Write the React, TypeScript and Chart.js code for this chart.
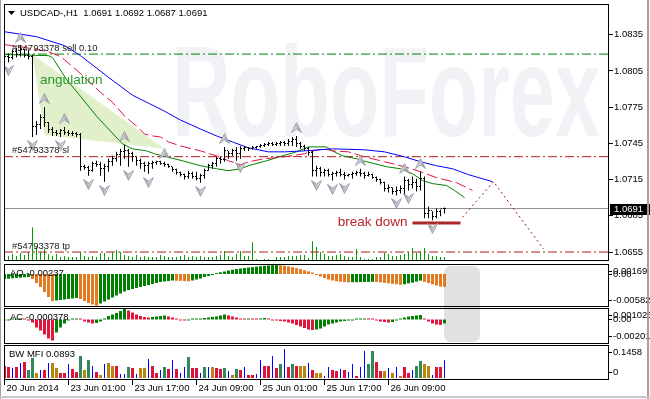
import React, { useEffect, useRef } from 'react';
import { Chart, registerables } from 'chart.js';

Chart.register(...registerables);

const FONT = '"Liberation Sans", Arial, sans-serif';

// ---------------- data ----------------
const symbolName = 'USDCAD-,H1';

const opens = [
  1.08145, 1.08169, 1.08161, 1.0821, 1.08186, 1.08227, 1.08177, 1.08169, 1.07586, 1.0761,
  1.07668, 1.07627, 1.07569, 1.07544, 1.07536, 1.07553, 1.07544, 1.07536, 1.07528, 1.0752,
  1.07257, 1.07249, 1.07224, 1.07281, 1.07273, 1.0724, 1.07257, 1.07298, 1.07323, 1.07355,
  1.0738, 1.07388, 1.07364, 1.07339, 1.07306, 1.07281, 1.07265, 1.07281, 1.0729, 1.07298,
  1.07281, 1.07273, 1.07257, 1.07232, 1.07207, 1.07191, 1.07175, 1.07199, 1.07175, 1.07158,
  1.07183, 1.07224, 1.07265, 1.07281, 1.07323, 1.07314, 1.07388, 1.07364, 1.07388, 1.07364,
  1.07405, 1.07413, 1.07405, 1.07413, 1.07421, 1.07429, 1.07438, 1.07446, 1.07438, 1.07446,
  1.07454, 1.07446, 1.07462, 1.07479, 1.07446, 1.07421, 1.07405, 1.07372, 1.07224, 1.0724,
  1.07207, 1.07224, 1.07191, 1.07199, 1.07207, 1.07191, 1.07183, 1.07191, 1.07199, 1.07207,
  1.07199, 1.07183, 1.07191, 1.07166, 1.0715, 1.07125, 1.07076, 1.07084, 1.07051, 1.0706,
  1.07076, 1.07142, 1.07109, 1.07125, 1.07092, 1.07158, 1.0687, 1.06895, 1.06846, 1.06887,
  1.0691,
];
const highs = [
  1.08186, 1.08194, 1.08227, 1.08243, 1.0826, 1.08235, 1.08227, 1.08186, 1.07635, 1.07692,
  1.0775, 1.07627, 1.07586, 1.07561, 1.07569, 1.07586, 1.07561, 1.07553, 1.07544, 1.07536,
  1.07273, 1.07265, 1.07298, 1.07306, 1.07298, 1.07281, 1.07323, 1.07347, 1.0738, 1.07405,
  1.07438, 1.07405, 1.0738, 1.07339, 1.07323, 1.07298, 1.07298, 1.07306, 1.07306, 1.07306,
  1.07298, 1.07281, 1.07257, 1.0724, 1.07216, 1.07199, 1.07224, 1.07216, 1.07216, 1.07199,
  1.0724, 1.07281, 1.07298, 1.07339, 1.07339, 1.07421, 1.07388, 1.07405, 1.07421, 1.07429,
  1.07429, 1.07421, 1.07429, 1.07429, 1.07446, 1.07454, 1.07462, 1.07462, 1.07462, 1.0747,
  1.0747, 1.07487, 1.07503, 1.07512, 1.07462, 1.07438, 1.07421, 1.07388, 1.07265, 1.07257,
  1.0724, 1.0724, 1.07216, 1.07224, 1.0724, 1.07216, 1.07199, 1.07216, 1.07224, 1.0724,
  1.07216, 1.07216, 1.07199, 1.07175, 1.07158, 1.07133, 1.07109, 1.07084, 1.07092, 1.07101,
  1.07175, 1.07158, 1.07175, 1.07158, 1.07216, 1.07175, 1.06928, 1.06887, 1.06912, 1.06903,
  1.0692,
];
const lows = [
  1.0812, 1.0812, 1.08145, 1.08161, 1.08169, 1.08161, 1.08145, 1.07503, 1.0752, 1.07569,
  1.07586, 1.07536, 1.07512, 1.07512, 1.07503, 1.0752, 1.07512, 1.07512, 1.07503, 1.07224,
  1.07232, 1.07183, 1.07216, 1.07257, 1.07183, 1.07133, 1.07216, 1.07265, 1.07298, 1.07265,
  1.07323, 1.07257, 1.07298, 1.07265, 1.0724, 1.07216, 1.07199, 1.0724, 1.07273, 1.07273,
  1.07257, 1.07249, 1.07216, 1.07191, 1.07175, 1.0715, 1.07158, 1.07158, 1.07142, 1.07125,
  1.07158, 1.07224, 1.0724, 1.07257, 1.07281, 1.07298, 1.07323, 1.07347, 1.07306, 1.07323,
  1.07388, 1.07388, 1.07397, 1.07405, 1.07413, 1.07421, 1.07429, 1.07429, 1.07429, 1.07429,
  1.07429, 1.07429, 1.07429, 1.07421, 1.07405, 1.07388, 1.07347, 1.07175, 1.07175, 1.07175,
  1.07175, 1.07175, 1.07142, 1.07175, 1.07175, 1.0715, 1.07175, 1.07158, 1.07183, 1.07175,
  1.07158, 1.07175, 1.07158, 1.07133, 1.07109, 1.07051, 1.07043, 1.07027, 1.07018, 1.07035,
  1.07027, 1.0706, 1.07076, 1.07051, 1.0706, 1.06829, 1.06829, 1.06813, 1.06829, 1.06846,
  1.0687,
];
const closes = [
  1.08169, 1.08161, 1.0821, 1.08186, 1.08227, 1.08177, 1.08169, 1.07586, 1.0761, 1.07668,
  1.07627, 1.07569, 1.07544, 1.07536, 1.07553, 1.07544, 1.07536, 1.07528, 1.0752, 1.07257,
  1.07249, 1.07224, 1.07281, 1.07273, 1.0724, 1.07257, 1.07298, 1.07323, 1.07355, 1.0738,
  1.07388, 1.07364, 1.07339, 1.07306, 1.07281, 1.07265, 1.07281, 1.0729, 1.07298, 1.07281,
  1.07273, 1.07257, 1.07232, 1.07207, 1.07191, 1.07175, 1.07199, 1.07175, 1.07158, 1.07183,
  1.07224, 1.07265, 1.07281, 1.07323, 1.07314, 1.07388, 1.07364, 1.07388, 1.07364, 1.07405,
  1.07413, 1.07405, 1.07413, 1.07421, 1.07429, 1.07438, 1.07446, 1.07438, 1.07446, 1.07454,
  1.07446, 1.07462, 1.07479, 1.07446, 1.07421, 1.07405, 1.07372, 1.07224, 1.0724, 1.07207,
  1.07224, 1.07191, 1.07199, 1.07207, 1.07191, 1.07183, 1.07191, 1.07199, 1.07207, 1.07199,
  1.07183, 1.07191, 1.07166, 1.0715, 1.07125, 1.07076, 1.07084, 1.07051, 1.0706, 1.07076,
  1.07142, 1.07109, 1.07125, 1.07092, 1.07158, 1.0687, 1.06895, 1.06846, 1.06887, 1.0691,
  1.0691,
];
const tickVolumes = [
  600, 500, 700, 500, 800, 600, 900, 3400, 1400, 900,
  1200, 700, 500, 700, 400, 500, 400, 400, 400, 900,
  500, 400, 500, 400, 800, 800, 400, 900, 1100, 900,
  600, 500, 400, 600, 400, 500, 400, 400, 400, 600,
  500, 400, 400, 400, 500, 600, 400, 500, 400, 500,
  400, 400, 400, 500, 600, 1000, 500, 400, 700, 1000,
  500, 500, 1900, 200, 100, 200, 200, 100, 400, 400,
  400, 500, 500, 500, 600, 600, 300, 2000, 1400, 900,
  700, 500, 500, 600, 700, 500, 400, 400, 1200, 400,
  200, 200, 200, 400, 400, 800, 700, 500, 500, 600,
  700, 900, 1300, 800, 1000, 1300, 700, 500, 500, 400,
  400,
];
const aoValues = [
  -0.00092, -0.00086, -0.00079, -0.00073, -0.00068, -0.0006, -0.00055, -0.00092, -0.00165, -0.00238,
  -0.00329, -0.00421, -0.00494, -0.00485, -0.00476, -0.00467, -0.00458, -0.00448, -0.00439, -0.00458,
  -0.00494, -0.00531, -0.00558, -0.00582, -0.0054, -0.00503, -0.00467, -0.0043, -0.00393, -0.00357,
  -0.0032, -0.00293, -0.00275, -0.00256, -0.00238, -0.0022, -0.00201, -0.00183, -0.00165, -0.00146,
  -0.00137, -0.00128, -0.00119, -0.00123, -0.00126, -0.0013, -0.00134, -0.00119, -0.00101, -0.00082,
  -0.00055, -0.00037, -0.00009, 0.00013, 0.00031, 0.00046, 0.00064, 0.00079, 0.00092, 0.00101,
  0.0011, 0.00118, 0.00126, 0.00134, 0.00142, 0.0015, 0.00157, 0.00163, 0.00169, 0.0016,
  0.0015, 0.00138, 0.00124, 0.00108, 0.0009, 0.0007, 0.00049, 0.00027, -0.00018, -0.00046,
  -0.00073, -0.00101, -0.00119, -0.00132, -0.00141, -0.00148, -0.00154, -0.00152, -0.0015, -0.00148,
  -0.00146, -0.00145, -0.00143, -0.00146, -0.00154, -0.00161, -0.0017, -0.00179, -0.00188, -0.00198,
  -0.00187, -0.00172, -0.00157, -0.00139, -0.00121, -0.00143, -0.00165, -0.00187, -0.00209, -0.00231,
  -0.00237,
];
const acValues = [
  -0.000096, -0.000048, 0.000005, 0.000048, 0.000096, 0.000048, -0.00001, -0.000287, -0.000766, -0.001053,
  -0.001436, -0.001818, -0.00201, -0.001244, -0.000766, -0.000383, -0.000096, 0.000048, 0.000096, 0.000048,
  -0.000191, -0.000287, -0.000383, -0.000335, -0.000191, 0.000096, 0.000335, 0.000479, 0.000622, 0.000813,
  0.001026, 0.000861, 0.00067, 0.000479, 0.000335, 0.000239, 0.000191, 0.000239, 0.000287, 0.000335,
  0.000383, 0.000287, 0.000191, 0.000048, -0.000048, -0.000096, -0.000048, 0.00001, 0.000048, 0.000096,
  0.000144, 0.000191, 0.000239, 0.000287, 0.000383, 0.000479, 0.000383, 0.000287, 0.000191, 0.000096,
  0.000048, 0.000096, 0.000048, 0.00001, 0.000096, 0.000144, 0.000048, -0.000048, -0.000096, -0.000144,
  -0.000191, -0.000287, -0.000383, -0.000526, -0.00067, -0.000813, -0.000957, -0.001005, -0.000957, -0.000861,
  -0.00067, -0.000479, -0.000383, -0.000287, -0.000191, -0.000144, -0.000096, -0.000048, 0.00001, 0.000048,
  0.000096, 0.000048, 0.00001, -0.000096, -0.000191, -0.000239, -0.000287, -0.000239, -0.000096, 0.000096,
  0.000191, 0.000287, 0.000335, 0.000383, 0.000431, 0.000096, -0.000191, -0.000383, -0.000479, -0.000526,
  -0.000378,
];
const mfiValues = [
  0.0604, 0.0553, 0.0503, 0.0553, 0.0755, 0.0805, 0.0402, 0.1006, 0.0252, 0.0402,
  0.0402, 0.0755, 0.0755, 0.0503, 0.0252, 0.0252, 0.0704, 0.0453, 0.0302, 0.1107,
  0.0402, 0.0905, 0.0604, 0.0302, 0.0151, 0.0704, 0.0755, 0.0604, 0.0604, 0.0201,
  0.0201, 0.0553, 0.0503, 0.0201, 0.0503, 0.0503, 0.0956, 0.0604, 0.0252, 0.0402,
  0.0553, 0.0453, 0.0905, 0.0453, 0.0252, 0.0553, 0.1056, 0.0503, 0.0503, 0.0252,
  0.0553, 0.0553, 0.0553, 0.0503, 0.0453, 0.0503, 0.0352, 0.0151, 0.0453, 0.0402,
  0.0553, 0.0151, 0.0151, 0.0201, 0.0905, 0.0604, 0.0604, 0.1107, 0.0503, 0.0704,
  0.1458, 0.0553, 0.0704, 0.0604, 0.0604, 0.0604, 0.0755, 0.0402, 0.0252, 0.0252,
  0.0101, 0.0553, 0.0402, 0.0352, 0.0453, 0.0402, 0.0302, 0.0704, 0.0101, 0.0553,
  0.1358, 0.0704, 0.1358, 0.0805, 0.0352, 0.0352, 0.0503, 0.0252, 0.0553, 0.0101,
  0.0553, 0.0252, 0.0402, 0.0604, 0.0855, 0.0704, 0.0604, 0.0151, 0.0553, 0.0553,
  0.0893,
];
// G = green (+MFI +vol), Y = fade, B = fake, R = squat
const mfiZones = (
  'RRBRBRGGYB' + 'RBYYRRBRRG' + 'YGBRYBYYRB' + 'BGRBYYBRRB' + 'GRBRBBGRRB' + 'GBYRRGBYGR' +
  'BRRBBRRBRG' + 'BRGRYYBRYY' + 'BBRRBRBBRB' + 'BGGRRYBYBY' + 'RRBGGYYBRR' + 'B'
).split('');
const upFractalBars = [4, 10, 15, 30, 40, 55, 73, 89, 100, 104];
const downFractalBars = [1, 7, 14, 21, 25, 31, 36, 49, 59, 78, 82, 85, 98, 101, 107];

const jawLine = [
  [0, 1.08375], [8, 1.08334], [15, 1.0826], [19, 1.08177], [26, 1.07997], [32, 1.07849], [36, 1.07783],
  [40, 1.07717], [44, 1.07643], [49, 1.07569], [53, 1.07512], [57, 1.07462], [61, 1.07413], [66, 1.0738],
  [70, 1.0738], [75, 1.07388], [82, 1.07405], [90, 1.07397], [95, 1.0738], [100, 1.07339], [104, 1.07298],
  [108, 1.07265], [112, 1.0724], [116, 1.07191], [122, 1.07133],
];
const teethLine = [
  [0, 1.08268], [4, 1.08251], [11, 1.0821], [14, 1.08169], [17, 1.08087], [19, 1.08029], [24, 1.07873],
  [27, 1.07791], [30, 1.07676], [33, 1.07594], [35, 1.07528], [37, 1.07512], [39, 1.07503], [41, 1.07462],
  [44, 1.07429], [49, 1.07388], [53, 1.07347], [56, 1.07306], [59, 1.07273], [61, 1.07298], [65, 1.07323],
  [70, 1.07339], [75, 1.07364], [77, 1.07388], [80, 1.07405], [82, 1.07388], [86, 1.0738], [90, 1.07339],
  [95, 1.07298], [100, 1.07257], [104, 1.07216], [108, 1.07166], [113, 1.07125], [117, 1.0706],
];
const lipsLine = [
  [0, 1.08186], [11, 1.08177], [12, 1.08161], [15.5, 1.0798], [19, 1.0784], [23, 1.07676], [26, 1.07569],
  [29.5, 1.07446], [32, 1.07405], [35.5, 1.07388], [37.5, 1.07364], [40.5, 1.07339], [44.5, 1.07306],
  [49, 1.07265], [53, 1.0724], [56, 1.07224], [59, 1.0724], [61, 1.07265], [65.5, 1.07306], [69.5, 1.07347],
  [73, 1.0738], [76, 1.07421], [80.5, 1.07421], [82, 1.07388], [84.5, 1.07347], [88, 1.07323], [90.5, 1.07298],
  [95.5, 1.07257], [99, 1.0724], [102, 1.07199], [104.5, 1.07142], [107, 1.07117], [110.5, 1.07101],
  [112.5, 1.0706], [115, 1.07002],
];

const priceTicks = [1.0655, 1.0685, 1.0715, 1.0745, 1.0775, 1.0805, 1.0835];
const timeTickBars = [0, 16, 32, 48, 64, 80, 96];
const timeTickLabels = ['20 Jun 2014', '23 Jun 01:00', '23 Jun 17:00', '24 Jun 09:00', '25 Jun 01:00', '25 Jun 17:00', '26 Jun 09:00'];

const orderId = '#54793378';
const orderLots = '0.10';
const sellPrice = 1.0819;
const stopLoss = 1.0734;
const takeProfit = 1.0655;
const breakDownLevel = 1.0679;
const breakDownBars = [102, 114];
const projectionPath = [[114.5, 1.06838], [122.25, 1.07133], [134.75, 1.06575]];
const angulationShape = [[7, 1.08186], [40, 1.07405], [10, 1.0752], [7, 1.08186]];
const angulationLabelAt = [8.9, 1.07939];

const aoAxisMarks = [0.00169, 0, -0.00582];
const acAxisMarks = [0.001026, 0, -0.00201];
const mfiAxisMarks = [0.1458, 0];

// ---------------- helpers ----------------
const LAST = closes.length - 1;
const X_MIN = -0.125;
const X_MAX = 151.125;
const pts = (arr: number[][]) => arr.map(([x, y]) => ({ x, y }));
const hline = (y: number) => [{ x: X_MIN, y }, { x: X_MAX, y }];
const DASHDOT = [9, 3, 2, 3];

function makeTick(side: 'open' | 'close'): HTMLCanvasElement {
  const c = document.createElement('canvas');
  c.width = 3;
  c.height = 1;
  const g = c.getContext('2d')!;
  g.fillStyle = '#000';
  g.fillRect(side === 'open' ? 0 : 2, 0, 1, 1);
  return c;
}
function makeArrow(): HTMLCanvasElement {
  const c = document.createElement('canvas');
  c.width = 11;
  c.height = 11;
  const g = c.getContext('2d')!;
  g.beginPath();
  g.moveTo(5.5, 0.5);
  g.lineTo(10.5, 10.5);
  g.lineTo(5.5, 7);
  g.lineTo(0.5, 10.5);
  g.closePath();
  const grad = g.createLinearGradient(0, 0, 11, 0);
  grad.addColorStop(0, '#f4f4f8');
  grad.addColorStop(0.45, '#c4c4cc');
  grad.addColorStop(1, '#8c8c98');
  g.fillStyle = grad;
  g.fill();
  g.strokeStyle = '#a4a4b0';
  g.lineWidth = 1;
  g.stroke();
  return c;
}

const noPad = (s: any) => {
  s.paddingTop = 0;
  s.paddingBottom = 0;
  s.paddingLeft = 0;
  s.paddingRight = 0;
};

const xAxis = (): any => ({
  type: 'linear', min: X_MIN, max: X_MAX, offset: false, display: false,
  grid: { display: false, offset: false },
});
const rightAxis = (min: number, max: number): any => ({
  position: 'right', min, max,
  afterFit: (s: any) => { s.width = 41; noPad(s); },
  ticks: { display: false },
  grid: { display: false },
  border: { display: false },
});
const baseOptions = (padding: any, scales: any): any => ({
  responsive: false,
  animation: false,
  events: [],
  layout: { padding },
  plugins: { legend: { display: false }, tooltip: { enabled: false } },
  scales,
});

const framePlugin = {
  id: 'frame',
  afterDraw(chart: any) {
    const { ctx, chartArea: a } = chart;
    ctx.save();
    ctx.strokeStyle = '#000';
    ctx.lineWidth = 1;
    ctx.strokeRect(a.left + 0.5, a.top + 0.5, a.right - a.left - 1, a.bottom - a.top - 1);
    ctx.restore();
  },
};

function panelPlugin(id: string, title: string, marks: { v: number; t: string; dy: number }[], titleX: number) {
  return {
    id,
    afterDraw(chart: any) {
      const { ctx, chartArea: a } = chart;
      const ys = chart.scales.y;
      ctx.save();
      ctx.font = `9.5px ${FONT}`;
      ctx.textBaseline = 'middle';
      ctx.textAlign = 'left';
      ctx.fillStyle = '#000';
      ctx.fillText(title, titleX, a.top + 9);
      marks.forEach((m) => {
        const y = Math.round(ys.getPixelForValue(m.v) + m.dy);
        ctx.fillRect(a.right, y, 3, 1);
        ctx.fillText(m.t, a.right + 4, y + 0.5);
      });
      ctx.restore();
    },
  };
}

const mainPlugin = {
  id: 'mainDecor',
  beforeDatasetsDraw(chart: any) {
    const { ctx, chartArea: a } = chart;
    ctx.save();
    ctx.beginPath();
    ctx.rect(a.left, a.top, a.right - a.left, a.bottom - a.top);
    ctx.clip();
    ctx.font = `bold 128px ${FONT}`;
    const w = ctx.measureText('RoboForex').width;
    ctx.translate(172, 136);
    ctx.scale(428 / w, 1);
    ctx.fillStyle = '#f0f2f6';
    ctx.textBaseline = 'alphabetic';
    ctx.fillText('RoboForex', 0, 0);
    ctx.restore();
    ctx.imageSmoothingEnabled = false;
  },
  afterDatasetsDraw(chart: any) {
    const { ctx } = chart;
    const xs = chart.scales.x;
    const ys = chart.scales.y;
    ctx.save();
    ctx.fillStyle = '#000';
    ctx.beginPath();
    ctx.moveTo(8, 11);
    ctx.lineTo(15, 11);
    ctx.lineTo(11.5, 15);
    ctx.closePath();
    ctx.fill();
    ctx.font = `9.5px ${FONT}`;
    ctx.textBaseline = 'middle';
    ctx.textAlign = 'left';
    const ohlc = [opens[LAST], highs[LAST], lows[LAST], closes[LAST]].map((v) => v.toFixed(4)).join(' ');
    ctx.fillText(`${symbolName}  ${ohlc}`, 20, 13);
    ctx.fillStyle = '#1a1a1a';
    ctx.fillText(`${orderId} sell ${orderLots}`, 12, ys.getPixelForValue(sellPrice) - 6);
    ctx.fillText(`${orderId} sl`, 12, ys.getPixelForValue(stopLoss) - 6);
    ctx.fillText(`${orderId} tp`, 12, ys.getPixelForValue(takeProfit) - 6);
    ctx.font = `13.5px ${FONT}`;
    ctx.textBaseline = 'alphabetic';
    ctx.fillStyle = '#2a992a';
    ctx.fillText('angulation', xs.getPixelForValue(angulationLabelAt[0]), ys.getPixelForValue(angulationLabelAt[1]));
    ctx.fillStyle = '#b8262b';
    ctx.textAlign = 'right';
    ctx.fillText('break down', xs.getPixelForValue(breakDownBars[0]) - 5, ys.getPixelForValue(breakDownLevel) + 3);
    ctx.restore();
  },
  afterDraw(chart: any) {
    const { ctx, chartArea: a } = chart;
    const ys = chart.scales.y;
    const yb = Math.round(ys.getPixelForValue(closes[LAST]));
    ctx.save();
    ctx.fillStyle = '#000';
    ctx.fillRect(a.right + 1, yb - 5, 41, 11);
    ctx.fillStyle = '#fff';
    ctx.font = `9.5px ${FONT}`;
    ctx.textBaseline = 'middle';
    ctx.textAlign = 'left';
    ctx.fillText(closes[LAST].toFixed(4), a.right + 5, yb + 0.5);
    ctx.restore();
  },
};

function mainConfig(): any {
  const openTick = makeTick('open');
  const closeTick = makeTick('close');
  const arrow = makeArrow();
  const FR_OFF = 0.0007;
  const line = (data: any, color: string, extra: any = {}) => ({
    type: 'line', data, borderColor: color, borderWidth: 1, pointRadius: 0, tension: 0, fill: false, ...extra,
  });
  const marks = (data: any, style: any, extra: any = {}) => ({
    type: 'line', data, showLine: false, pointStyle: style, pointRadius: 2, pointHoverRadius: 2,
    pointBorderWidth: 0, ...extra,
  });
  return {
    type: 'bar',
    data: {
      datasets: [
        { type: 'line', data: pts(angulationShape), borderWidth: 0, pointRadius: 0, fill: 'shape',
          backgroundColor: 'rgba(168,212,104,0.34)', borderColor: 'rgba(0,0,0,0)', order: 30 },
        { type: 'bar', yAxisID: 'yVol', data: tickVolumes.map((v, i) => ({ x: i, y: v })), backgroundColor: '#00a000',
          barThickness: 1, inflateAmount: 0, grouped: false, borderWidth: 0, order: 29 },
        line(hline(sellPrice), '#008000', { borderDash: DASHDOT, order: 20 }),
        line(hline(stopLoss), '#b01c1c', { borderDash: DASHDOT, order: 20 }),
        line(hline(takeProfit), '#b01c1c', { borderDash: DASHDOT, order: 20 }),
        line(hline(closes[LAST]), '#8a9099', { order: 20 }),
        line(pts(jawLine), '#0000ff', { order: 10 }),
        line(pts(teethLine), '#e0143c', { borderDash: [11, 4], order: 10 }),
        line(pts(lipsLine), '#008000', { order: 10 }),
        line(breakDownBars.map((x) => ({ x, y: breakDownLevel })), '#a82828', { borderWidth: 3, order: 9 }),
        line(pts(projectionPath), '#a01818', { borderDash: [2, 3], order: 9 }),
        { type: 'bar', data: highs.map((h, i) => ({ x: i, y: [lows[i], h] })), backgroundColor: '#000',
          barThickness: 1, inflateAmount: 0, grouped: false, borderWidth: 0, order: 3 },
        marks(opens.map((y, i) => ({ x: i, y })), openTick, { order: 2 }),
        marks(closes.map((y, i) => ({ x: i, y })), closeTick, { order: 2 }),
        marks(upFractalBars.map((i) => ({ x: i, y: highs[i] + FR_OFF })), arrow, { order: 1 }),
        marks(downFractalBars.map((i) => ({ x: i, y: lows[i] - FR_OFF })), arrow, { pointRotation: 180, order: 1 }),
      ],
    },
    options: baseOptions({ left: 4, right: 0, top: 4, bottom: 0 }, {
      x: xAxis(),
      y: {
        position: 'right', min: 1.064758, max: 1.086048,
        afterFit: (s: any) => { s.width = 41; noPad(s); },
        afterBuildTicks: (s: any) => { s.ticks = priceTicks.map((v) => ({ value: v })); },
        ticks: { callback: (v: any) => Number(v).toFixed(4), color: '#000', padding: 1, autoSkip: false,
          font: { family: FONT, size: 9.5 } },
        grid: { drawOnChartArea: false, drawTicks: true, tickLength: 4, color: '#000' },
        border: { display: false },
      },
      yVol: { display: false, min: 0, max: 25900 },
    }),
    plugins: [mainPlugin, framePlugin],
  };
}

function aoConfig(): any {
  return {
    type: 'bar',
    data: {
      datasets: [{
        data: aoValues.map((v, i) => ({ x: i, y: v })),
        backgroundColor: (c: any) => (c.dataIndex === 0 || aoValues[c.dataIndex] > aoValues[c.dataIndex - 1] ? '#008000' : '#e27a22'),
        barThickness: 3, inflateAmount: 0, grouped: false, borderWidth: 0, minBarLength: 1,
      }],
    },
    options: baseOptions({ left: 4, right: 0, top: 0, bottom: 0 }, { x: xAxis(), y: rightAxis(-0.00604, 0.00183) }),
    plugins: [framePlugin, panelPlugin('aoDecor', `AO ${aoValues[LAST].toFixed(5)}`, [
      { v: aoAxisMarks[0], t: aoAxisMarks[0].toFixed(5), dy: 6 },
      { v: aoAxisMarks[1], t: '0.00', dy: 0 },
      { v: aoAxisMarks[2], t: aoAxisMarks[2].toFixed(5), dy: -6 },
    ], 10)],
  };
}

function acConfig(): any {
  return {
    type: 'bar',
    data: {
      datasets: [{
        data: acValues.map((v, i) => ({ x: i, y: v })),
        backgroundColor: (c: any) => (c.dataIndex === 0 || acValues[c.dataIndex] > acValues[c.dataIndex - 1] ? '#008000' : '#e0143c'),
        barThickness: 3, inflateAmount: 0, grouped: false, borderWidth: 0, minBarLength: 1,
      }],
    },
    options: baseOptions({ left: 4, right: 0, top: 0, bottom: 0 }, { x: xAxis(), y: rightAxis(-0.002345, 0.0011) }),
    plugins: [framePlugin, panelPlugin('acDecor', `AC ${acValues[LAST].toFixed(6)}`, [
      { v: acAxisMarks[0], t: acAxisMarks[0].toFixed(6), dy: 6 },
      { v: acAxisMarks[1], t: '0.00', dy: 0 },
      { v: acAxisMarks[2], t: acAxisMarks[2].toFixed(5), dy: -4 },
    ], 10)],
  };
}

function mfiConfig(): any {
  const colors: Record<string, string> = { G: '#2e8b57', Y: '#b8860b', B: '#0000ff', R: '#dc143c' };
  const zoneSet = (z: string) => ({
    type: 'bar',
    data: mfiValues.map((v, i) => ({ x: i, y: mfiZones[i] === z ? v : null })),
    backgroundColor: colors[z],
    barThickness: z === 'B' ? 1 : 3,
    inflateAmount: 0, grouped: false, borderWidth: 0,
  });
  return {
    type: 'bar',
    data: { datasets: ['G', 'Y', 'R', 'B'].map(zoneSet) },
    options: baseOptions({ left: 4, right: 0, top: 0, bottom: 0 }, {
      x: {
        type: 'linear', min: X_MIN, max: X_MAX, offset: false,
        afterFit: (s: any) => { s.height = 19; noPad(s); },
        afterBuildTicks: (s: any) => { s.ticks = timeTickBars.map((v) => ({ value: v })); },
        ticks: { callback: (_v: any, i: number) => timeTickLabels[i], autoSkip: false, maxRotation: 0, minRotation: 0,
          align: 'start', color: '#000', padding: -2, labelOffset: 2, font: { family: FONT, size: 9.5 } },
        grid: { drawOnChartArea: false, drawTicks: true, tickLength: 5, color: '#000', offset: false },
        border: { display: false },
      },
      y: rightAxis(-0.01006, 0.166),
    }),
    plugins: [framePlugin, panelPlugin('mfiDecor', `BW MFI ${mfiValues[LAST].toFixed(4)}`, [
      { v: mfiAxisMarks[0], t: mfiAxisMarks[0].toFixed(4), dy: 3 },
      { v: mfiAxisMarks[1], t: '0', dy: -6 },
    ], 9)],
  };
}

export default function App() {
  const mainRef = useRef<HTMLCanvasElement>(null);
  const aoRef = useRef<HTMLCanvasElement>(null);
  const acRef = useRef<HTMLCanvasElement>(null);
  const mfiRef = useRef<HTMLCanvasElement>(null);

  useEffect(() => {
    Chart.defaults.font.family = FONT;
    const charts = [
      new Chart(mainRef.current!, mainConfig()),
      new Chart(aoRef.current!, aoConfig()),
      new Chart(acRef.current!, acConfig()),
      new Chart(mfiRef.current!, mfiConfig()),
    ];
    return () => charts.forEach((c) => c.destroy());
  }, []);

  const abs = (top: number): React.CSSProperties => ({ position: 'absolute', left: 0, top });
  return (
    <div style={{ position: 'absolute', left: 0, top: 0, width: 650, height: 399, background: '#fff', overflow: 'hidden' }}>
      <div style={{ position: 'absolute', left: 444, top: 266, width: 36, height: 76, borderRadius: 7, background: '#e1e1e1' }} />
      <canvas ref={mainRef} width={650} height={263} style={abs(0)} />
      <canvas ref={aoRef} width={650} height={43} style={abs(264)} />
      <canvas ref={acRef} width={650} height={36} style={abs(308)} />
      <canvas ref={mfiRef} width={650} height={54} style={abs(345)} />
      <div style={{ position: 'absolute', left: 0, top: 0, width: 1, height: 399, background: '#a0a0a0' }} />
      <div style={{ position: 'absolute', left: 647, top: 0, width: 2, height: 399, background: '#a0a0a0' }} />
      <div style={{ position: 'absolute', left: 0, top: 396, width: 650, height: 2, background: '#c8c8c8' }} />
    </div>
  );
}
